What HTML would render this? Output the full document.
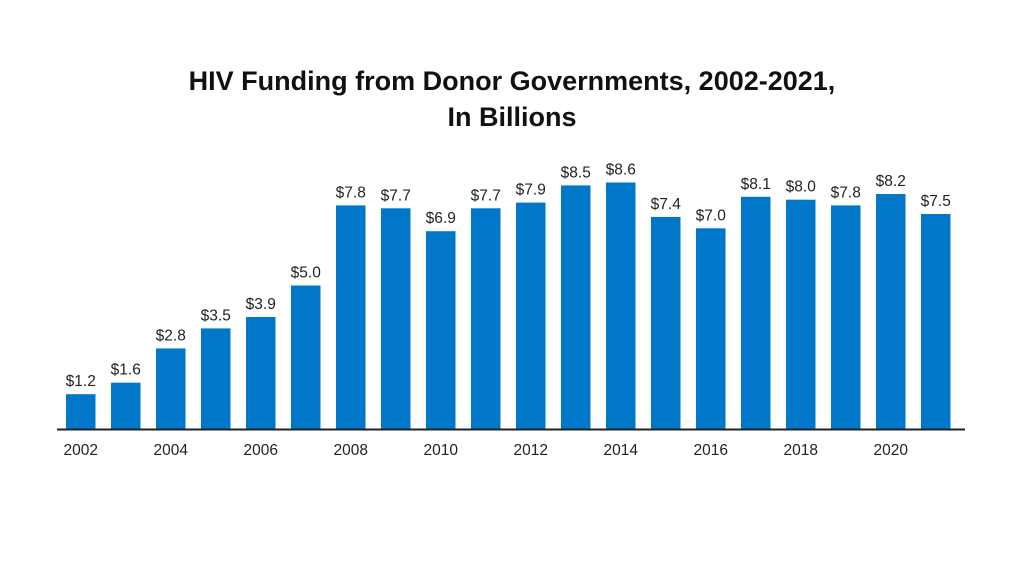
<!DOCTYPE html>
<html><head><style>body{margin:0;background:#fff}</style></head><body>
<svg width="1024" height="576" xmlns="http://www.w3.org/2000/svg" font-family="Liberation Sans, sans-serif">
<rect width="1024" height="576" fill="#fff"/>
<text x="512" y="90" text-anchor="middle" font-size="27" font-weight="bold" fill="#111">HIV Funding from Donor Governments, 2002-2021,</text>
<text x="512" y="126" text-anchor="middle" font-size="27" font-weight="bold" fill="#111">In Billions</text>
<g fill="#0077c8">
<rect x="66" y="394.2" width="29.5" height="34.3"/>
<rect x="111" y="382.7" width="29.5" height="45.8"/>
<rect x="156" y="348.4" width="29.5" height="80.1"/>
<rect x="201" y="328.4" width="29.5" height="100.1"/>
<rect x="246" y="317" width="29.5" height="111.5"/>
<rect x="291" y="285.5" width="29.5" height="143"/>
<rect x="336" y="205.4" width="29.5" height="223.1"/>
<rect x="381" y="208.3" width="29.5" height="220.2"/>
<rect x="426" y="231.2" width="29.5" height="197.3"/>
<rect x="471" y="208.3" width="29.5" height="220.2"/>
<rect x="516" y="202.6" width="29.5" height="225.9"/>
<rect x="561" y="185.4" width="29.5" height="243.1"/>
<rect x="606" y="182.5" width="29.5" height="246"/>
<rect x="651" y="216.9" width="29.5" height="211.6"/>
<rect x="696" y="228.3" width="29.5" height="200.2"/>
<rect x="741" y="196.8" width="29.5" height="231.7"/>
<rect x="786" y="199.7" width="29.5" height="228.8"/>
<rect x="831" y="205.4" width="29.5" height="223.1"/>
<rect x="876" y="194" width="29.5" height="234.5"/>
<rect x="921" y="214" width="29.5" height="214.5"/>
</g>
<g font-size="15.5" fill="#222" text-anchor="middle">
<text x="80.75" y="386.2">$1.2</text>
<text x="125.75" y="374.7">$1.6</text>
<text x="170.75" y="340.4">$2.8</text>
<text x="215.75" y="320.4">$3.5</text>
<text x="260.75" y="309">$3.9</text>
<text x="305.75" y="277.5">$5.0</text>
<text x="350.75" y="197.4">$7.8</text>
<text x="395.75" y="200.3">$7.7</text>
<text x="440.75" y="223.2">$6.9</text>
<text x="485.75" y="200.3">$7.7</text>
<text x="530.75" y="194.6">$7.9</text>
<text x="575.75" y="177.4">$8.5</text>
<text x="620.75" y="174.5">$8.6</text>
<text x="665.75" y="208.9">$7.4</text>
<text x="710.75" y="220.3">$7.0</text>
<text x="755.75" y="188.8">$8.1</text>
<text x="800.75" y="191.7">$8.0</text>
<text x="845.75" y="197.4">$7.8</text>
<text x="890.75" y="186">$8.2</text>
<text x="935.75" y="206">$7.5</text>
<text x="80.75" y="455">2002</text>
<text x="170.75" y="455">2004</text>
<text x="260.75" y="455">2006</text>
<text x="350.75" y="455">2008</text>
<text x="440.75" y="455">2010</text>
<text x="530.75" y="455">2012</text>
<text x="620.75" y="455">2014</text>
<text x="710.75" y="455">2016</text>
<text x="800.75" y="455">2018</text>
<text x="890.75" y="455">2020</text>
</g>
<line x1="57" y1="429.5" x2="965" y2="429.5" stroke="#222" stroke-width="2"/>
</svg>
</body></html>
